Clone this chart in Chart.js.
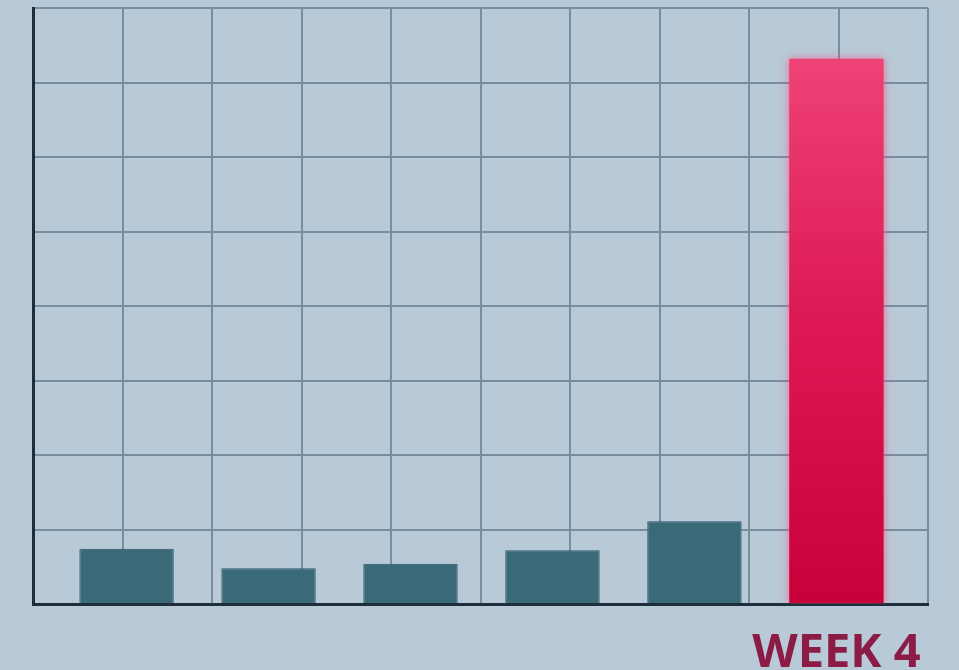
<!DOCTYPE html>
<html>
<head>
<meta charset="utf-8">
<script src="https://cdn.jsdelivr.net/npm/chart.js@4"></script>
<style>
    html, body { margin: 0; padding: 0; background: #b8c9d7; }
    #wrap { width: 959px; height: 670px; position: relative; }
</style>
</head>
<body>
<div id="wrap"><canvas id="weekChart"></canvas></div>
<script>
// data (y in grid units)
const categories = ['', '', '', '', '', 'WEEK 4'];
const values = [0.74, 0.48, 0.54, 0.72, 1.11, 7.32];
const highlightIndex = 5;
const gridColumns = 10;
const gridRows = 8;

document.addEventListener('DOMContentLoaded', () => {
    const ctx = document.getElementById('weekChart').getContext('2d');

    const normalBars = categories.map((c, i) => ({ x: i, y: i === highlightIndex ? null : values[i] }));
    const hotBars = categories.map((c, i) => ({ x: i, y: i === highlightIndex ? values[i] : null }));

    function redGradient(context) {
        const area = context.chart.chartArea;
        if (!area) return '#d8084a';
        const g = context.chart.ctx.createLinearGradient(0, area.top, 0, area.bottom);
        g.addColorStop(0, '#f24b7d');
        g.addColorStop(0.5, '#de1a56');
        g.addColorStop(1, '#c8003a');
        return g;
    }

    // soft glow behind the highlighted bar
    const glowPlugin = {
        id: 'glow',
        beforeDatasetDraw(chart, args) {
            if (args.index !== 1) return;
            const c = chart.ctx;
            c.save();
            c.shadowColor = 'rgba(255, 70, 120, 0.7)';
            c.shadowBlur = 8;
        },
        afterDatasetDraw(chart, args) {
            if (args.index !== 1) return;
            chart.ctx.restore();
        }
    };

    new Chart(ctx, {
        type: 'bar',
        data: {
            datasets: [{
                data: normalBars,
                backgroundColor: '#3a6a78',
                borderColor: '#2f5a68',
                borderWidth: 1,
                grouped: false,
                categoryPercentage: 1,
                barPercentage: 0.665
            }, {
                data: hotBars,
                backgroundColor: redGradient,
                borderWidth: 0,
                grouped: false,
                categoryPercentage: 1,
                barPercentage: 0.665
            }]
        },
        options: {
            responsive: true,
            maintainAspectRatio: false,
            animation: false,
            layout: { padding: { left: 33, right: 31, top: 8, bottom: 0 } },
            plugins: {
                legend: { display: false },
                tooltip: { enabled: false }
            },
            scales: {
                x: {
                    type: 'linear',
                    position: 'bottom',
                    offset: false,
                    min: -0.659,
                    max: 5.645,
                    grid: { display: false, offset: false },
                    border: { display: true, color: '#1f2e3b', width: 3 },
                    ticks: {
                        stepSize: 1,
                        includeBounds: false,
                        autoSkip: false,
                        maxRotation: 0,
                        padding: 13,
                        color: '#8c1c45',
                        font: { family: 'Open Sans', size: 47, weight: 'bold' },
                        callback: v => (Number.isInteger(v) && categories[v]) ? categories[v] : ''
                    },
                    afterFit: scale => { scale.height = 66; }
                },
                xGrid: {
                    type: 'linear',
                    axis: 'x',
                    position: 'top',
                    offset: false,
                    min: 0,
                    max: gridColumns,
                    grid: { color: '#788d9e', lineWidth: 2, drawTicks: false, offset: false },
                    border: { display: false },
                    ticks: { display: false, stepSize: 1 },
                    afterFit: scale => { scale.height = 0; }
                },
                y: {
                    min: 0,
                    max: gridRows,
                    grid: { color: '#788d9e', lineWidth: 2, drawTicks: false },
                    border: { display: true, color: '#1f2e3b', width: 3 },
                    ticks: { display: false, stepSize: 1 },
                    afterFit: scale => { scale.width = 0; }
                }
            }
        },
        plugins: [glowPlugin]
    });
});
</script>
</body>
</html>
